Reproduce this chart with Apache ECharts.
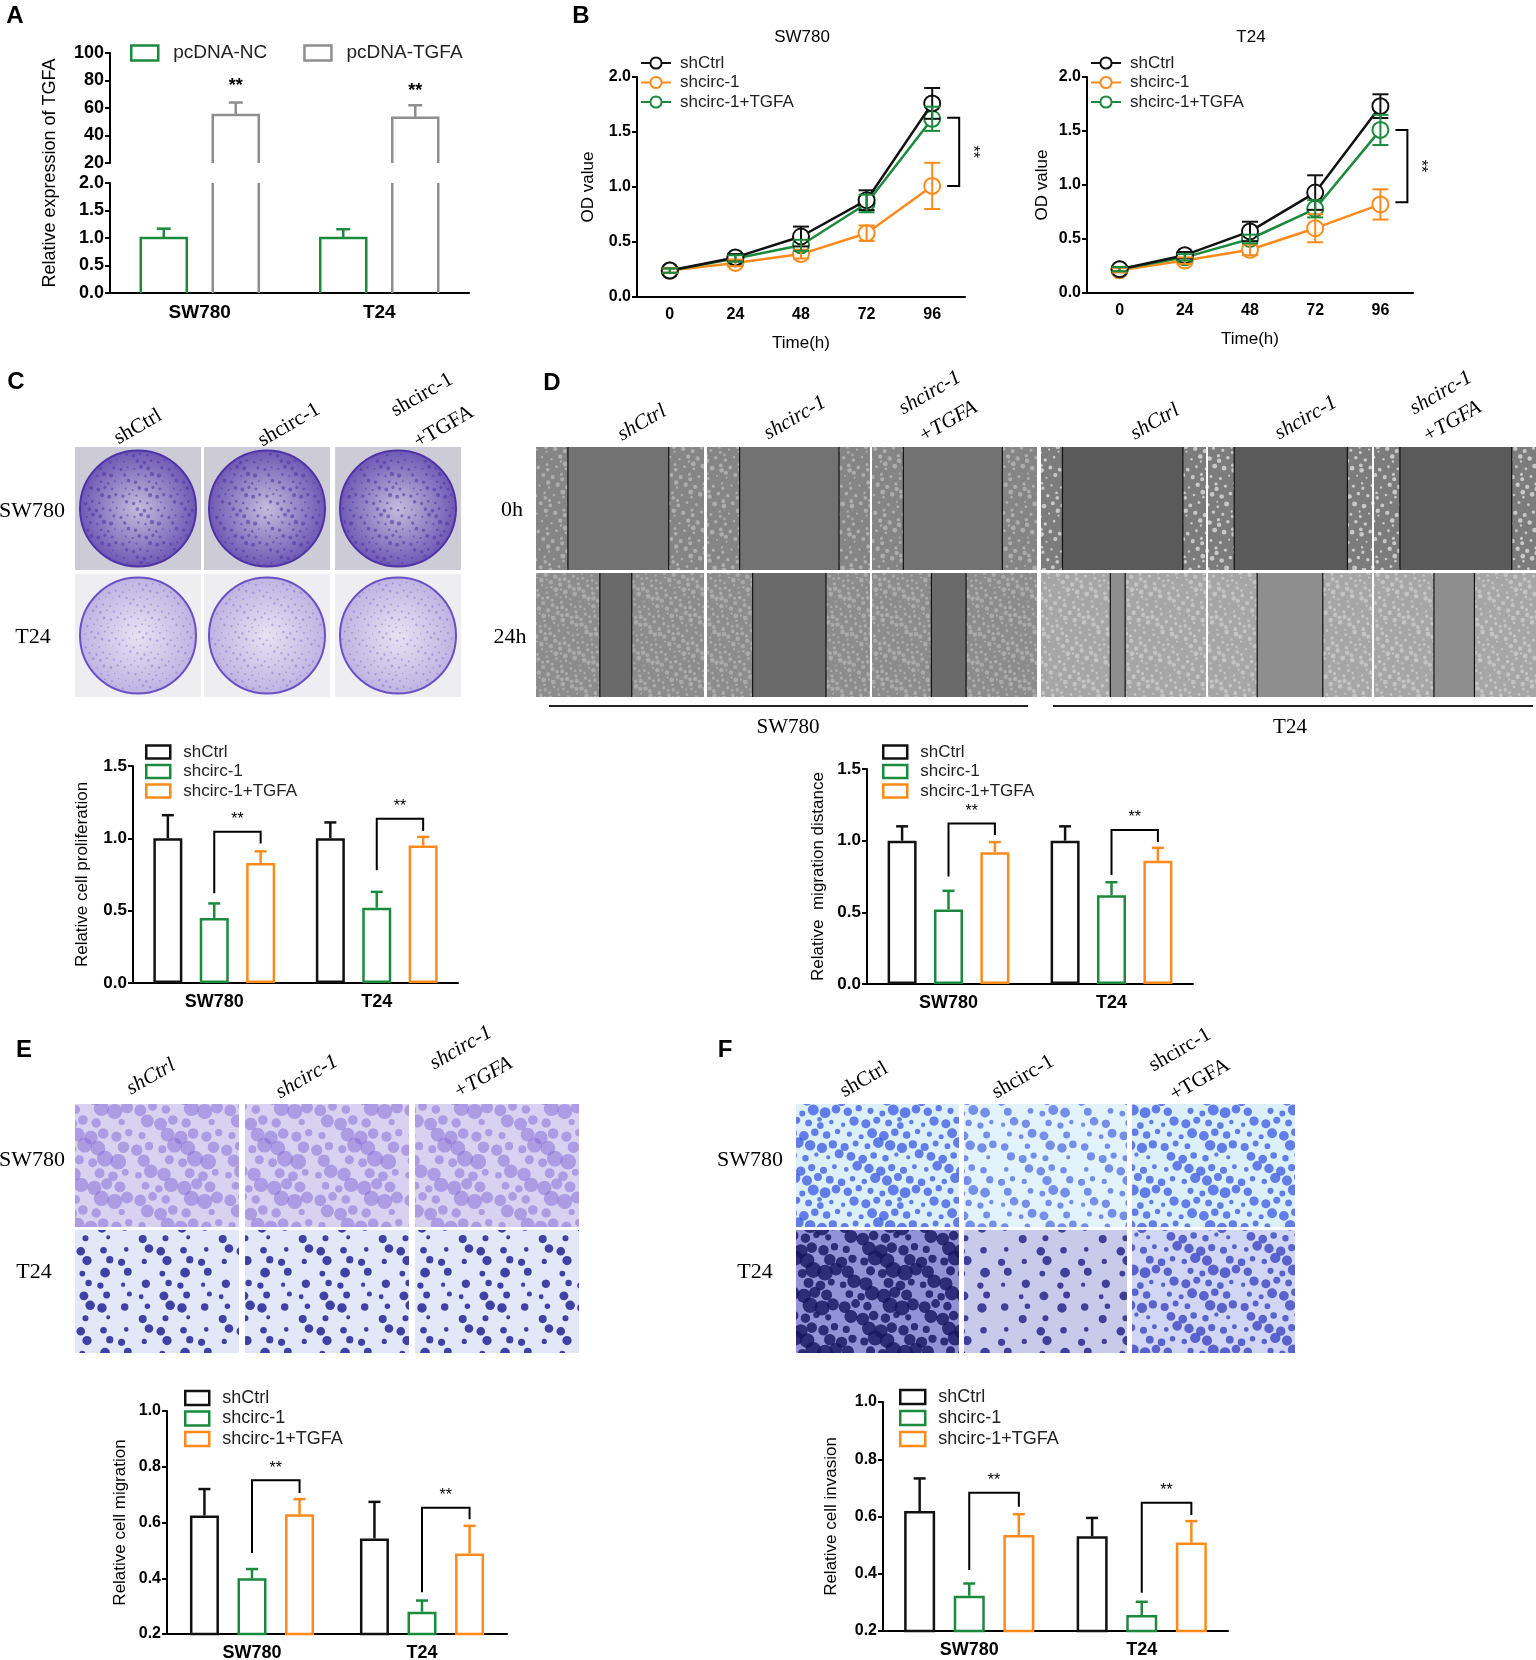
<!DOCTYPE html>
<html>
<head>
<meta charset="utf-8">
<script src="https://cdn.jsdelivr.net/npm/echarts@6/dist/echarts.min.js"></script>
<style>
  html, body { margin: 0; padding: 0; background: #fff; }
  #main { width: 1536px; height: 1660px; }
</style>
</head>
<body>
<div id="main"></div>
<script>
// ---- data ----
var cellLines = ['SW780', 'T24'];
var groups = ['shCtrl', 'shcirc-1', 'shcirc-1+TGFA'];
var timePoints = ['0', '24', '48', '72', '96'];

// A: relative expression of TGFA
var tgfaNC = [1.0, 1.0];
var tgfaNCErr = [0.17, 0.16];
var tgfaOE = [55, 53];
var tgfaOEErr = [9, 9];
var tgfaStars = [76, 72];

// B: OD value, SW780
var odSwCtrl = [0.24, 0.36, 0.55, 0.88, 1.76];
var odSwCtrlErr = [0.02, 0.03, 0.09, 0.09, 0.14];
var odSwSh = [0.24, 0.31, 0.39, 0.58, 1.01];
var odSwShErr = [0.02, 0.03, 0.04, 0.07, 0.21];
var odSwTgfa = [0.24, 0.35, 0.47, 0.85, 1.62];
var odSwTgfaErr = [0.02, 0.03, 0.05, 0.08, 0.11];
// B: OD value, T24
var odT24Ctrl = [0.22, 0.35, 0.57, 0.93, 1.73];
var odT24CtrlErr = [0.02, 0.03, 0.09, 0.16, 0.11];
var odT24Sh = [0.21, 0.30, 0.40, 0.60, 0.82];
var odT24ShErr = [0.02, 0.03, 0.05, 0.13, 0.14];
var odT24Tgfa = [0.22, 0.33, 0.50, 0.78, 1.51];
var odT24TgfaErr = [0.02, 0.03, 0.04, 0.08, 0.14];
var sigBSw = [[4, 1.63, 1.01]];
var sigBT24 = [[4, 1.51, 0.84]];

// C: relative cell proliferation [SW780, T24]
var prolifCtrl = [1.0, 1.0], prolifCtrlErr = [0.16, 0.11];
var prolifSh = [0.45, 0.52], prolifShErr = [0.10, 0.11];
var prolifTgfa = [0.83, 0.95], prolifTgfaErr = [0.08, 0.06];
// D: relative migration distance
var migDistCtrl = [1.0, 1.0], migDistCtrlErr = [0.10, 0.10];
var migDistSh = [0.52, 0.62], migDistShErr = [0.13, 0.09];
var migDistTgfa = [0.92, 0.86], migDistTgfaErr = [0.07, 0.09];
// E: relative cell migration
var migCtrl = [0.625, 0.543], migCtrlErr = [0.095, 0.131];
var migSh = [0.40, 0.28], migShErr = [0.033, 0.04];
var migTgfa = [0.63, 0.489], migTgfaErr = [0.054, 0.099];
// F: relative cell invasion
var invCtrl = [0.619, 0.531], invCtrlErr = [0.114, 0.064];
var invSh = [0.323, 0.256], invShErr = [0.043, 0.046];
var invTgfa = [0.535, 0.509], invTgfaErr = [0.073, 0.075];

// significance brackets: [category, bracket top, left leg end, right leg end]
var sigC = [[0, 1.045, 0.62, 0.965], [1, 1.135, 0.78, 1.05]];
var sigD = [[0, 1.12, 0.75, 1.04], [1, 1.074, 0.76, 0.99]];
var sigE = [[0, 0.752, 0.491, 0.706], [1, 0.653, 0.35, 0.612]];
var sigF = [[0, 0.683, 0.413, 0.634], [1, 0.648, 0.334, 0.605]];

// ---- styles ----
var SANS = 'Liberation Sans, Arial, Helvetica, sans-serif';
var SERIF = 'Liberation Serif, Times New Roman, serif';
var GREEN = '#1b8a3d', ORANGE = '#ff8a1c', GRAY = '#8e8e8e', BLACK = '#111111';
var barColors = [BLACK, GREEN, ORANGE];
var lineColors = [BLACK, ORANGE, GREEN];

var chart = echarts.init(document.getElementById('main'));

// ---------- helpers for axes ----------
function catAxis(grid, fs, show) {
    return {
        type: 'category', gridIndex: grid, data: cellLines, show: show !== false,
        axisLine: { lineStyle: { color: '#000', width: 2 } },
        axisTick: { alignWithLabel: true, length: 5, lineStyle: { color: '#000', width: 2 } },
        axisLabel: { color: '#000', fontFamily: SANS, fontWeight: 'bold', fontSize: fs, margin: 10 }
    };
}
function timeAxis(grid) {
    return {
        type: 'category', gridIndex: grid, data: timePoints,
        name: 'Time(h)', nameLocation: 'middle', nameGap: 38,
        nameTextStyle: { color: '#000', fontFamily: SANS, fontSize: 17 },
        axisLine: { lineStyle: { color: '#000', width: 2 } },
        axisTick: { alignWithLabel: true, length: 5, lineStyle: { color: '#000', width: 2 } },
        axisLabel: { color: '#000', fontFamily: SANS, fontWeight: 'bold', fontSize: 16, margin: 10 }
    };
}
function valAxis(grid, min, max, step, digits, fs, name, gap) {
    return {
        type: 'value', gridIndex: grid, min: min, max: max, interval: step,
        name: name || '', nameLocation: 'middle', nameGap: gap || 0, nameRotate: 90,
        nameTextStyle: { color: '#000', fontFamily: SANS, fontSize: 17 },
        axisLine: { show: true, lineStyle: { color: '#000', width: 2 } },
        axisTick: { show: true, length: 5, lineStyle: { color: '#000', width: 2 } },
        splitLine: { show: false },
        axisLabel: {
            color: '#000', fontFamily: SANS, fontWeight: 'bold', fontSize: fs, margin: 6,
            formatter: function (v) { return v.toFixed(digits); }
        }
    };
}

// ---------- custom renderers ----------
// open bar (no bottom edge), top edge dropped when cut by the grid
function openBar(offset, width, color) {
    return function (params, api) {
        var cs = params.coordSys;
        var p = api.coord([api.value(0), api.value(1)]);
        var x0 = p[0] + offset - width / 2, x1 = x0 + width;
        var yBase = cs.y + cs.height;
        var st = { stroke: color, lineWidth: 2.5, fill: null };
        if (p[1] < cs.y) {
            return { type: 'group', children: [
                { type: 'line', shape: { x1: x0, y1: yBase, x2: x0, y2: cs.y }, style: st },
                { type: 'line', shape: { x1: x1, y1: yBase, x2: x1, y2: cs.y }, style: st }
            ] };
        }
        return { type: 'polyline', shape: { points: [[x0, yBase], [x0, p[1]], [x1, p[1]], [x1, yBase]] }, style: st };
    };
}
// upper error bar: data [cat, value, err, group]
function upErr(offsetOf, colorOf, cap) {
    return function (params, api) {
        var k = api.value(3);
        var p0 = api.coord([api.value(0), api.value(1)]);
        var p1 = api.coord([api.value(0), api.value(1) + api.value(2)]);
        var x = p0[0] + offsetOf(k);
        var st = { stroke: colorOf(k), lineWidth: 2.5 };
        return { type: 'group', children: [
            { type: 'line', shape: { x1: x, y1: p0[1], x2: x, y2: p1[1] }, style: st },
            { type: 'line', shape: { x1: x - cap / 2, y1: p1[1], x2: x + cap / 2, y2: p1[1] }, style: st }
        ] };
    };
}
// symmetric error bar: data [cat, value, err]
function symErr(color, cap) {
    return function (params, api) {
        var lo = api.coord([api.value(0), api.value(1) - api.value(2)]);
        var hi = api.coord([api.value(0), api.value(1) + api.value(2)]);
        var x = lo[0];
        var st = { stroke: color, lineWidth: 2 };
        return { type: 'group', children: [
            { type: 'line', shape: { x1: x, y1: lo[1], x2: x, y2: hi[1] }, style: st },
            { type: 'line', shape: { x1: x - cap / 2, y1: hi[1], x2: x + cap / 2, y2: hi[1] }, style: st },
            { type: 'line', shape: { x1: x - cap / 2, y1: lo[1], x2: x + cap / 2, y2: lo[1] }, style: st }
        ] };
    };
}
// stars text at a value: data [cat, value]
function starText(offset) {
    return function (params, api) {
        var p = api.coord([api.value(0), api.value(1)]);
        return { type: 'text', x: p[0] + offset, y: p[1],
            style: { text: '**', font: 'bold 18px ' + SANS, fill: '#000', align: 'center', verticalAlign: 'middle',
                     textAlign: 'center', textVerticalAlign: 'middle' } };
    };
}
// bracket between groups 1 and 2: data [cat, top, leftEnd, rightEnd]
function bracket(spacing) {
    return function (params, api) {
        var i = api.value(0);
        var t = api.coord([i, api.value(1)]);
        var l = api.coord([i, api.value(2)]);
        var r = api.coord([i, api.value(3)]);
        var xl = t[0], xr = t[0] + spacing;
        return { type: 'group', children: [
            { type: 'polyline', shape: { points: [[xl, l[1]], [xl, t[1]], [xr, t[1]], [xr, r[1]]] },
              style: { stroke: '#000', lineWidth: 2, fill: null } },
            { type: 'text', x: (xl + xr) / 2, y: t[1] - 12,
              style: { text: '**', font: '16px ' + SANS, fill: '#000', align: 'center', verticalAlign: 'middle',
                       textAlign: 'center', textVerticalAlign: 'middle' } }
        ] };
    };
}
// vertical bracket right of the last time point: data [cat, top, bottom]
function vBracket(params, api) {
    var t = api.coord([api.value(0), api.value(1)]);
    var b = api.coord([api.value(0), api.value(2)]);
    var x = t[0] + 27;
    return { type: 'group', children: [
        { type: 'polyline', shape: { points: [[x - 12, t[1]], [x, t[1]], [x, b[1]], [x - 12, b[1]]] },
          style: { stroke: '#000', lineWidth: 2, fill: null } },
        { type: 'text', x: x + 13, y: (t[1] + b[1]) / 2, rotation: -Math.PI / 2,
          style: { text: '**', font: '16px ' + SANS, fill: '#000', align: 'center', verticalAlign: 'middle',
                   textAlign: 'center', textVerticalAlign: 'middle' } }
    ] };
}

// ---------- series ----------
var series = [];

// A
series.push(
    { type: 'custom', name: 'pcDNA-NC', xAxisIndex: 1, yAxisIndex: 1,
      data: tgfaNC.map(function (v, i) { return [i, v]; }), renderItem: openBar(-36, 46, GREEN) },
    { type: 'custom', name: 'pcDNA-TGFA', xAxisIndex: 1, yAxisIndex: 1,
      data: tgfaOE.map(function (v, i) { return [i, v]; }), renderItem: openBar(36, 46, GRAY) },
    { type: 'custom', name: 'pcDNA-TGFA', xAxisIndex: 0, yAxisIndex: 0,
      data: tgfaOE.map(function (v, i) { return [i, v]; }), renderItem: openBar(36, 46, GRAY) },
    { type: 'custom', xAxisIndex: 1, yAxisIndex: 1,
      data: tgfaNC.map(function (v, i) { return [i, v, tgfaNCErr[i], 0]; }),
      renderItem: upErr(function () { return -36; }, function () { return GREEN; }, 14) },
    { type: 'custom', xAxisIndex: 0, yAxisIndex: 0,
      data: tgfaOE.map(function (v, i) { return [i, v, tgfaOEErr[i], 1]; }),
      renderItem: upErr(function () { return 36; }, function () { return GRAY; }, 14) },
    { type: 'custom', xAxisIndex: 0, yAxisIndex: 0,
      data: tgfaStars.map(function (v, i) { return [i, v]; }), renderItem: starText(36) }
);

// B
function growthPanel(axis, vals, errs, sig) {
    var zs = [5, 3, 4];
    groups.forEach(function (g, k) {
        series.push({
            type: 'line', name: g, xAxisIndex: axis, yAxisIndex: axis, data: vals[k], z: zs[k],
            symbol: 'emptyCircle', symbolSize: 16,
            lineStyle: { color: lineColors[k], width: 2.5 },
            itemStyle: { color: lineColors[k], borderWidth: 2.5 },
            emphasis: { disabled: true }
        });
        series.push({
            type: 'custom', xAxisIndex: axis, yAxisIndex: axis, z: 6,
            data: vals[k].map(function (v, i) { return [i, v, errs[k][i]]; }),
            renderItem: symErr(lineColors[k], 16)
        });
    });
    series.push({ type: 'custom', xAxisIndex: axis, yAxisIndex: axis, data: sig, renderItem: vBracket });
}
growthPanel(2, [odSwCtrl, odSwSh, odSwTgfa], [odSwCtrlErr, odSwShErr, odSwTgfaErr], sigBSw);
growthPanel(3, [odT24Ctrl, odT24Sh, odT24Tgfa], [odT24CtrlErr, odT24ShErr, odT24TgfaErr], sigBT24);

// C-F
function barPanel(axis, vals, errs, sig, barW, gap) {
    var spacing = barW * (1 + gap);
    var errData = [];
    groups.forEach(function (g, k) {
        series.push({
            type: 'bar', name: g, xAxisIndex: axis, yAxisIndex: axis, data: vals[k],
            barWidth: barW, barGap: Math.round(gap * 100) + '%',
            itemStyle: { color: 'rgba(0,0,0,0)', borderColor: barColors[k], borderWidth: 2.5 },
            emphasis: { disabled: true }
        });
        vals[k].forEach(function (v, i) { errData.push([i, v, errs[k][i], k]); });
    });
    series.push({
        type: 'custom', xAxisIndex: axis, yAxisIndex: axis, data: errData, z: 3,
        renderItem: upErr(function (k) { return (k - 1) * spacing; },
                          function (k) { return barColors[k]; }, 12)
    });
    series.push({ type: 'custom', xAxisIndex: axis, yAxisIndex: axis, data: sig, renderItem: bracket(spacing) });
}
barPanel(4, [prolifCtrl, prolifSh, prolifTgfa], [prolifCtrlErr, prolifShErr, prolifTgfaErr], sigC, 29, 0.6);
barPanel(5, [migDistCtrl, migDistSh, migDistTgfa], [migDistCtrlErr, migDistShErr, migDistTgfaErr], sigD, 29, 0.6);
barPanel(6, [migCtrl, migSh, migTgfa], [migCtrlErr, migShErr, migTgfaErr], sigE, 29, 0.64);
barPanel(7, [invCtrl, invSh, invTgfa], [invCtrlErr, invShErr, invTgfaErr], sigF, 31, 0.6);

// ---------- legends ----------
function boxLegend(left, top, names, colors, fs, w, h, gapText, lh, itemGap, orient) {
    return {
        orient: orient || 'vertical', left: left, top: top, itemWidth: w, itemHeight: h, itemGap: itemGap,
        padding: 0, selectedMode: false,
        textStyle: { color: '#222', fontFamily: SANS, fontSize: fs, lineHeight: lh, padding: [0, 0, 0, gapText] },
        data: names.map(function (n, k) {
            return { name: n, icon: 'rect',
                     itemStyle: { color: 'rgba(0,0,0,0)', borderColor: colors[k], borderWidth: 2.5 } };
        })
    };
}
function lineLegend(left, top) {
    return {
        orient: 'vertical', left: left, top: top, itemWidth: 30, itemHeight: 14, itemGap: 0.5,
        padding: 0, selectedMode: false,
        textStyle: { color: '#222', fontFamily: SANS, fontSize: 17, lineHeight: 19, padding: [0, 0, 0, 4] },
        data: groups.slice()
    };
}
var legends = [
    boxLegend(130, 42, ['pcDNA-NC', 'pcDNA-TGFA'], [GREEN, GRAY], 19, 27, 15, 10, 22, 36, 'horizontal'),
    lineLegend(640, 53.5),
    lineLegend(1090, 53.5),
    boxLegend(145, 742.5, groups, barColors, 17, 24, 13, 8, 19, 0.5),
    boxLegend(882, 742.5, groups, barColors, 17, 24, 13, 8, 19, 0.5),
    boxLegend(184, 1388, groups, barColors, 18, 24, 14, 8, 20, 0.5),
    boxLegend(899, 1387, groups, barColors, 18, 25, 14, 8, 20, 1)
];

// ---------- picture panels (photos approximated) ----------
// seamless dotted texture, dots placed on a low-discrepancy grid
function speckle(bg, dot, size, n, rmin, rmax) {
    var c = document.createElement('canvas');
    c.width = c.height = size;
    var g = c.getContext('2d');
    g.fillStyle = bg; g.fillRect(0, 0, size, size);
    g.fillStyle = dot;
    for (var k = 1; k <= n; k++) {
        var px = ((0.5 + k * 0.7548776662) % 1) * size;
        var py = ((0.5 + k * 0.5698402910) % 1) * size;
        var r = rmin + ((k * 0.381966) % 1) * (rmax - rmin);
        g.beginPath();
        for (var dx = -1; dx <= 1; dx++) {
            for (var dy = -1; dy <= 1; dy++) {
                g.moveTo(px + dx * size + r, py + dy * size);
                g.arc(px + dx * size, py + dy * size, r, 0, Math.PI * 2);
            }
        }
        g.fill();
    }
    return { image: c, repeat: 'repeat' };
}
function rect(x, y, w, h, fill) {
    return { type: 'rect', silent: true, shape: { x: x, y: y, width: w, height: h }, style: { fill: fill } };
}
function seg(x1, y1, x2, y2, color, w) {
    return { type: 'line', silent: true, shape: { x1: x1, y1: y1, x2: x2, y2: y2 }, style: { stroke: color, lineWidth: w } };
}
function label(x, y, text, font, rot) {
    return { type: 'text', silent: true, x: x, y: y, rotation: rot || 0,
             style: { text: text, font: font, fill: '#000', align: 'center', verticalAlign: 'middle',
                      textAlign: 'center', textVerticalAlign: 'middle' } };
}
function radial(c0, c1) {
    return { type: 'radial', x: 0.5, y: 0.5, r: 0.5, colorStops: [{ offset: 0, color: c0 }, { offset: 1, color: c1 }] };
}

var gfx = [];
var ROT = Math.PI / 6;

// panel letters
[['A', 15, 16], ['B', 581, 16], ['C', 16, 382], ['D', 552, 383], ['E', 24, 1050], ['F', 725, 1050]].forEach(function (p) {
    gfx.push(label(p[1], p[2], p[0], 'bold 24px ' + SANS));
});
gfx.push(label(50, 173, 'Relative expression of TGFA', '18px ' + SANS, Math.PI / 2));
gfx.push(label(802, 37, 'SW780', '17px ' + SANS));
gfx.push(label(1251, 37, 'T24', '17px ' + SANS));

// C: colony dishes
var cX = [75, 204, 335], cY = [447, 574];
var cDish = [
    { bg: '#cdcbd5', c0: '#c4bddc', c1: '#6d58b4', rim: '#4f32a8',
      dots: speckle('rgba(0,0,0,0)', 'rgba(80,50,165,0.55)', 48, 40, 0.8, 2.2) },
    { bg: '#eeeef2', c0: '#e6e2f2', c1: '#beb3e2', rim: '#6a50c4',
      dots: speckle('rgba(0,0,0,0)', 'rgba(100,75,185,0.35)', 48, 50, 0.6, 1.4) }
];
cY.forEach(function (y, r) {
    cX.forEach(function (x) {
        var d = cDish[r];
        gfx.push(rect(x, y, 126, 123, d.bg));
        gfx.push({ type: 'circle', silent: true, shape: { cx: x + 63, cy: y + 61.5, r: 58 },
                   style: { fill: radial(d.c0, d.c1), stroke: d.rim, lineWidth: 2 } });
        gfx.push({ type: 'circle', silent: true, shape: { cx: x + 63, cy: y + 61.5, r: 56 },
                   style: { fill: d.dots } });
    });
});
gfx.push(label(138, 427, 'shCtrl', '21px ' + SERIF, ROT));
gfx.push(label(289, 425, 'shcirc-1', '21px ' + SERIF, ROT));
gfx.push(label(422, 395, 'shcirc-1', '21px ' + SERIF, ROT));
gfx.push(label(444, 427, '+TGFA', '21px ' + SERIF, ROT));
gfx.push(label(32, 511, 'SW780', '22px ' + SERIF));
gfx.push(label(33, 637, 'T24', '22px ' + SERIF));

// D: scratch wound images
var dX = [536, 707, 872, 1041, 1208, 1374], dW = [168, 163, 165, 165, 164, 162];
var dY = [447, 573], dH = [123, 124];
var dGap = [
    [[0.19, 0.79], [0.2, 0.81], [0.19, 0.79], [0.13, 0.86], [0.16, 0.85], [0.16, 0.85]],
    [[0.38, 0.57], [0.28, 0.73], [0.36, 0.57], [0.42, 0.51], [0.3, 0.7], [0.37, 0.62]]
];
var dCell = [
    [speckle('#858585', 'rgba(205,205,205,0.55)', 64, 70, 1, 2.5), speckle('#7c7c7c', 'rgba(225,225,225,0.75)', 64, 60, 1, 2.5)],
    [speckle('#8c8c8c', 'rgba(200,200,200,0.5)', 64, 110, 1, 2.5), speckle('#a6a6a6', 'rgba(215,215,215,0.6)', 64, 90, 1, 2.5)]
];
var dGapCol = [['#727272', '#5a5a5a'], ['#6a6a6a', '#8e8e8e']];
dY.forEach(function (y, r) {
    dX.forEach(function (x, c) {
        var w = dW[c], h = dH[r], line = c < 3 ? 0 : 1;
        var g0 = x + dGap[r][c][0] * w, g1 = x + dGap[r][c][1] * w;
        gfx.push(rect(x, y, w, h, dCell[r][line]));
        gfx.push(rect(g0, y, g1 - g0, h, dGapCol[r][line]));
        gfx.push(seg(g0, y, g0, y + h, '#111', 1.2));
        gfx.push(seg(g1, y, g1, y + h, '#111', 1.2));
    });
});
[[642, 423, 'shCtrl'], [795, 418, 'shcirc-1'], [930, 393, 'shcirc-1'], [948, 422, '+TGFA'],
 [1155, 422, 'shCtrl'], [1306, 418, 'shcirc-1'], [1441, 393, 'shcirc-1'], [1452, 422, '+TGFA']].forEach(function (t) {
    gfx.push(label(t[0], t[1], t[2], 'italic 21px ' + SERIF, ROT));
});
gfx.push(label(512, 510, '0h', '22px ' + SERIF));
gfx.push(label(510, 637, '24h', '22px ' + SERIF));
gfx.push(seg(549, 706, 1028, 706, '#222', 2));
gfx.push(seg(1053, 706, 1533, 706, '#222', 2));
gfx.push(label(788, 727, 'SW780', '21px ' + SERIF));
gfx.push(label(1290, 727, 'T24', '21px ' + SERIF));

// E: transwell migration images
var eX = [75, 245, 415], fX = [796, 964, 1132], tY = [1104, 1230];
var eFill = [
    speckle('#d8d2f0', 'rgba(130,100,215,0.5)', 90, 40, 3, 8),
    speckle('#e2e8f7', 'rgba(35,35,150,0.85)', 80, 26, 2, 5)
];
tY.forEach(function (y, r) {
    eX.forEach(function (x) { gfx.push(rect(x, y, 164, 123, eFill[r])); });
});
gfx.push(label(151, 1077, 'shCtrl', 'italic 21px ' + SERIF, ROT));
gfx.push(label(307, 1077, 'shcirc-1', 'italic 21px ' + SERIF, ROT));
gfx.push(label(461, 1048, 'shcirc-1', 'italic 21px ' + SERIF, ROT));
gfx.push(label(483, 1078, '+TGFA', 'italic 21px ' + SERIF, ROT));
gfx.push(label(32, 1160, 'SW780', '22px ' + SERIF));
gfx.push(label(34, 1272, 'T24', '22px ' + SERIF));

// F: transwell invasion images
var fFill = [
    [speckle('#dcf0fa', 'rgba(45,75,220,0.7)', 80, 50, 2, 5.5), speckle('#e2f3fb', 'rgba(45,75,220,0.6)', 80, 36, 2, 5),
     speckle('#dcf0fa', 'rgba(45,75,220,0.7)', 80, 46, 2, 5.5)],
    [speckle('#9292d6', 'rgba(20,20,95,0.8)', 80, 42, 3, 8), speckle('#c8caea', 'rgba(40,40,140,0.85)', 80, 20, 2, 5),
     speckle('#d0d6f3', 'rgba(50,60,190,0.75)', 80, 44, 2, 5.5)]
];
tY.forEach(function (y, r) {
    fX.forEach(function (x, c) { gfx.push(rect(x, y, 163, 123, fFill[r][c])); });
});
gfx.push(label(864, 1080, 'shCtrl', '21px ' + SERIF, ROT));
gfx.push(label(1023, 1077, 'shcirc-1', '21px ' + SERIF, ROT));
gfx.push(label(1180, 1050, 'shcirc-1', '21px ' + SERIF, ROT));
gfx.push(label(1200, 1080, '+TGFA', '21px ' + SERIF, ROT));
gfx.push(label(750, 1160, 'SW780', '22px ' + SERIF));
gfx.push(label(755, 1272, 'T24', '22px ' + SERIF));

// ---------- option ----------
function grid(l, t, w, h) {
    return { left: l, top: t, width: w, height: h, containLabel: false, outerBoundsMode: 'none' };
}
var option = {
    animation: false,
    backgroundColor: '#fff',
    grid: [
        grid(110, 53, 359, 110),
        grid(110, 183, 359, 110),
        grid(637, 77, 328, 220),
        grid(1087, 77, 326, 216),
        grid(133, 766, 325, 217),
        grid(867, 769, 326, 215),
        grid(167, 1411, 340, 223),
        grid(883, 1402, 345, 229)
    ],
    xAxis: [
        catAxis(0, 19, false),
        catAxis(1, 19),
        timeAxis(2),
        timeAxis(3),
        catAxis(4, 18),
        catAxis(5, 18),
        catAxis(6, 18),
        catAxis(7, 18)
    ],
    yAxis: [
        valAxis(0, 20, 100, 20, 0, 18),
        valAxis(1, 0, 2, 0.5, 1, 18),
        valAxis(2, 0, 2, 0.5, 1, 16, 'OD value', 40),
        valAxis(3, 0, 2, 0.5, 1, 16, 'OD value', 36),
        valAxis(4, 0, 1.5, 0.5, 1, 17, 'Relative cell proliferation', 42),
        valAxis(5, 0, 1.5, 0.5, 1, 17, 'Relative  migration distance', 40),
        valAxis(6, 0.2, 1.0, 0.2, 1, 16, 'Relative cell migration', 38),
        valAxis(7, 0.2, 1.0, 0.2, 1, 16, 'Relative cell invasion', 43)
    ],
    legend: legends,
    series: series,
    graphic: { elements: gfx }
};
chart.setOption(option);
</script>
</body>
</html>
